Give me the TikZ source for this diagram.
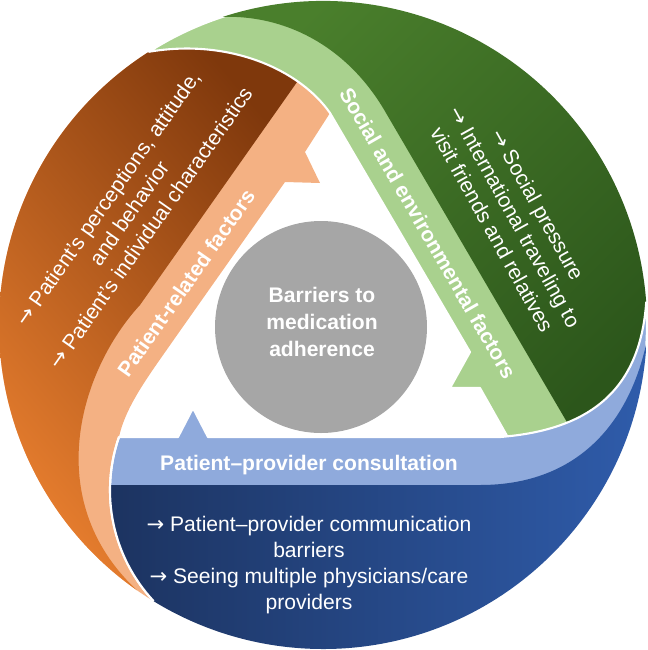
\documentclass[tikz,border=0pt]{standalone}
\usepackage{fontspec}
\setmainfont{Liberation Sans}
\newfontfamily\arrfont{DejaVu Sans}
\newcommand{\rar}{{\arrfont →}}
\usetikzlibrary{calc}
\definecolor{orangeL}{HTML}{F4B183}
\definecolor{orangeA}{HTML}{E67D2E}
\definecolor{orangeD}{HTML}{7F380C}
\definecolor{greenL}{HTML}{A9D18E}
\definecolor{greenA}{HTML}{4A7F2C}
\definecolor{greenD}{HTML}{2C561B}
\definecolor{blueL}{HTML}{8FAADC}
\definecolor{blueA}{HTML}{1C3360}
\definecolor{blueD}{HTML}{2F5CAB}
\definecolor{grayC}{HTML}{A6A6A6}
\begin{document}
\begin{tikzpicture}[x={(0.02cm,0)},y={(0,-0.02cm)},
  sep/.style={draw=white,line width=1.2pt,line join=round},
  body/.style={text=white,font=\fontsize{12}{14.8}\selectfont,align=center,inner sep=0pt},
  title/.style={text=white,font=\bfseries\fontsize{12}{15.3}\selectfont,align=center,inner sep=0pt}]
\useasboundingbox (0,0) rectangle (647,650);
\coordinate (C) at (323,325);
\coordinate (B) at (272.6,490.3);
% orange piece
\fill[orangeL] ($(C)+(237.5:324)$) arc[start angle=237.5,end angle=110,radius=324]
  -- (180,560) -- (150,470) -- ($(B)+(199.13:162.6)$)
  .. controls (126,405) and (150,374) .. (175,338)
  -- (285,182) -- (320,183) -- (305,152) -- (330,113)
  .. controls (300,70) and (230,38) .. ($(C)+(237.5:324)$) -- cycle;
\shade[left color=orangeA,right color=orangeD,shading angle=130]
  ($(C)+(237.5:324)$) arc[start angle=237.5,end angle=125,radius=324]
  .. controls (40,500) and (80,370) .. (140,305) -- (302,75) -- (310,40) -- (210,35) -- cycle;
% green piece
\path[fill=greenL,sep] ($(C)+(237.5:324)$) arc[start angle=237.5,end angle=375,radius=324]
  -- (560,460) -- (515,450) -- (480,388) -- (450,388) -- (470,352) -- (330,113)
  .. controls (300,70) and (230,38) .. ($(C)+(237.5:324)$) -- cycle;
\shade[left color=greenA,right color=greenD,shading angle=45]
  ($(C)+(252:324)$) arc[start angle=252,end angle=375,radius=324]
  -- (595,470) -- (386,113) .. controls (350,50) and (290,15) .. ($(C)+(252:324)$) -- cycle;
% blue piece
\path[fill=blueL,sep] ($(C)+(356:324)$) .. controls (640,390) and (590,430) .. (500,437)
  -- (208,437) -- (193,408) -- (178,437) -- ($(B)+(199.13:162.6)$)
  arc[start angle=199.13,end angle=137,radius=162.6]
  arc[start angle=121.5,end angle=-4,radius=324] -- cycle;
\shade[left color=blueA,right color=blueD]
  ($(B)+(181.87:162.6)$) -- (480,485) .. controls (580,485) and (630,420) .. ($(C)+(3:324)$)
  arc[start angle=3,end angle=121.5,radius=324]
  arc[start angle=137,end angle=181.87,radius=162.6] -- cycle;
\draw[sep] ($(B)+(199.13:162.6)$) arc[start angle=199.13,end angle=137,radius=162.6];
% hub
\fill[grayC] (321,327) circle[radius=106];
\node[title] (hub) at (322,322) {Barriers to\\medication\\adherence};
% labels
\node[title] (ppc) at (309,465) {Patient–provider consultation};
\node[body] (ppcb) at (309,565) {\rar{} Patient–provider communication\\barriers\\\rar{} Seeing multiple physicians/care\\providers};
\node[title,rotate=55] (prf) at (186,283) {Patient-related factors};
\node[body,rotate=55] (prfb) at (129,213) {\rar{} Patient’s perceptions, attitude,\\and behavior\\\rar{} Patient’s individual characteristics};
\node[title,rotate=-60] (sef) at (428,233) {Social and environmental factors};
\node[body,rotate=-61] (sefb) at (515,217) {\rar{} Social pressure\\\rar{} International traveling to\\visit friends and relatives};
\end{tikzpicture}
\end{document}
